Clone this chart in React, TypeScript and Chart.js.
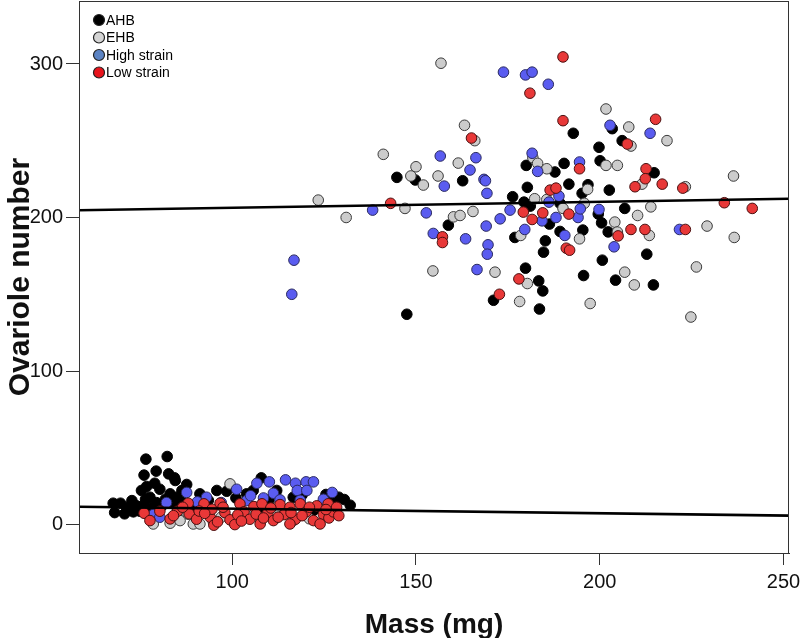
import React, { useEffect, useRef } from "react";
import { Chart, registerables } from "chart.js";

Chart.register(...registerables);

const xTicks = [100, 150, 200, 250];
const yTicks = [0, 100, 200, 300];
const xTitle = "Mass (mg)";
const yTitle = "Ovariole number";
const seriesNames = ["AHB", "EHB", "High strain", "Low strain"];

const ahbPoints: [number, number][] = [
  [144.8, 226.2], [149.8, 224.5], [158.8, 195.1], [147.5, 137.1], [192.8, 254.9], [203.4, 257.9],
  [206.1, 250.1], [199.8, 245.8], [162.7, 224], [180, 234], [187.8, 229.7], [190.3, 235.3],
  [200.1, 237], [214.8, 229.2], [180.3, 219.7], [191.6, 221.8], [196.8, 221.4], [195.2, 215.8],
  [202.6, 217.9], [176.3, 213.6], [179.4, 210.1], [181.1, 207.5], [189.2, 209.3], [206.8, 206],
  [186.3, 195.8], [199.6, 202.3], [200.5, 196.6], [202.3, 190.7], [176.9, 187.1], [185.2, 184.9],
  [189.2, 191], [195.4, 191.9], [184.7, 177.5], [200.7, 172.3], [212.8, 176.2], [179.8, 167.1],
  [183.4, 158.8], [184.5, 152.3], [171.1, 146.2], [183.6, 140.5], [195.6, 162.3], [204.3, 159.3],
  [214.6, 156.2],
  [67.6, 14.1], [68, 8], [69.6, 14.1], [70.7, 7.2], [71.3, 11.5], [72.7, 15.8], [73.1, 8.5],
  [74, 12.4], [74.9, 8.9], [75.3, 22.4], [75.8, 12.4], [76.4, 16.7], [76.9, 7.2], [77.6, 18],
  [78.2, 11.5], [78.9, 27.1], [79.4, 14.5], [80.3, 23.2], [80.9, 12.4], [81.8, 16.7], [83.1, 20.2],
  [84, 13.7], [84.9, 18], [86.3, 22.4], [87.6, 26.3], [76.7, 25], [76, 32.4], [79.3, 35],
  [82.7, 33.2], [84.3, 30.6], [84.5, 28.9], [76.5, 42.8], [82.3, 44.5], [98.5, 21.9], [103.9, 20.2],
  [105.7, 22.4], [107.9, 30.6], [129, 18], [132.1, 12.8], [95.8, 22.4], [91.2, 20.2], [112.1, 22.4],
  [116.6, 18], [127.5, 15.8], [89.4, 11.5], [107.6, 11.5], [122.1, 9.4], [72, 10], [79.8, 9.5],
  [86, 15.5], [93.5, 16], [101, 17.5], [110, 16], [119, 19.5], [125.5, 19.8], [130.5, 16.5]
];

const ehbPoints: [number, number][] = [
  [156.8, 300.5], [141.1, 241.2], [150, 233.1], [148.6, 227.1], [152, 221.2], [156, 227.1],
  [123.4, 211.4], [147, 206], [131, 200.1], [160.2, 200.5], [162, 201.4], [154.6, 165.3],
  [161.5, 235.5], [163.2, 260.1], [166, 250.1], [201.7, 270.7], [207.9, 259], [218.3, 250.1],
  [208.5, 246.6], [181.8, 239], [183.1, 235.3], [185.6, 231.8], [201.7, 234], [204.8, 234],
  [211.5, 221.8], [223.3, 220.1], [236.4, 227.1], [196.7, 218.4], [182.3, 212.3], [185.6, 211.8],
  [190, 206], [195.8, 209.3], [213.9, 207], [204.1, 197.1], [204.8, 190.6], [210.3, 201.4],
  [213.5, 188.4], [229.2, 194.5], [236.6, 187.1], [165.5, 204], [178.5, 188.4], [194.5, 186.2],
  [171.5, 164.5], [180.3, 157.1], [178.2, 145.4], [197.4, 144.1], [206.8, 164.5], [209.4, 156.2],
  [226.3, 167.9], [224.8, 135.3],
  [83.1, 1.1], [89.4, 0.6], [85.8, 2.8], [94.9, 1.5], [100.3, 1.9], [99.4, 26.7], [78.5, 0.6],
  [91.2, 0.6], [116.6, 2.8], [107.6, 3.7], [112.1, 11.5], [97, 5], [104, 6], [121, 4], [88, 7]
];

const highStrainPoints: [number, number][] = [
  [156.6, 240.1], [157.7, 220.5], [138.2, 204.9], [152.8, 203.1], [154.7, 189.7], [116.8, 172.3],
  [116.2, 150.1], [173.8, 294.7], [179.8, 292.9], [181.6, 294.7], [186, 286.8], [202.8, 260.1],
  [213.7, 254.9], [166.3, 239], [164.7, 231], [168.5, 224.9], [168.9, 224], [169.3, 215.8],
  [181.6, 241.9], [183.1, 230.1], [194.5, 236.2], [188.9, 214], [186.2, 210.1], [175.6, 204.9],
  [184.3, 197.9], [188.1, 200.1], [194.1, 200.1], [194.7, 205.7], [199.8, 205.3], [221.7, 192.3],
  [172.9, 199.2], [169.1, 194.5], [163.5, 186.2], [169.6, 182.3], [169.4, 176.2], [179.6, 192.3],
  [190.5, 188.4], [203.9, 181], [166.6, 166.2],
  [106.7, 27.1], [110.1, 28], [114.5, 29.3], [117.2, 27.1], [120.1, 28], [122.1, 28], [117.7, 22.4],
  [120.3, 22.4], [111.2, 20.6], [101.2, 23.2], [87.6, 21.1], [127.2, 21.1], [113, 16.3], [93, 18],
  [82.1, 14.5], [78.5, 6.7], [80.3, 5], [124.8, 16.7], [103.9, 15.8], [97, 14.5], [108.5, 17.5],
  [90.5, 15], [118.5, 16], [105, 19]
];

const lowStrainPoints: [number, number][] = [
  [143.1, 209.3], [157.2, 187.5], [157.2, 183.8], [190, 304.6], [181, 281], [190, 263.1],
  [215.2, 264], [165.1, 251.8], [207.5, 247.9], [194.5, 231.8], [212.6, 231.8], [212.4, 225.3],
  [209.6, 220.1], [217, 221.8], [222.6, 219.2], [186.5, 217.9], [188.1, 219.2], [233.9, 209.7],
  [241.5, 206], [179.2, 203.6], [181.6, 198.8], [184.5, 203.1], [191.6, 202.3], [205, 188.1],
  [208.5, 192.3], [212.3, 192.3], [223.3, 192.3], [190.9, 180.1], [191.8, 178.8], [178, 160.1],
  [172.7, 150.1],
  [76, 7.6], [83.1, 3.9], [85.1, 8.9], [88, 14.1], [88.3, 7.2], [90.3, 3.7], [92.3, 13.7], [94, 5],
  [94.5, 10.2], [96.7, 14.1], [98, 8], [99.4, 3.3], [100.7, 0.2], [102.1, 13.7], [103.2, 8.5],
  [104.8, 3.7], [105.9, 11.9], [108.1, 13.7], [109.7, 8], [111.2, 2.8], [113, 13.2], [114.1, 6.7],
  [115.7, 11.5], [117.2, 3.7], [118.5, 13.7], [120.1, 8.5], [122.1, 2.8], [123, 12.4], [124.8, 6.7],
  [126.1, 13.7], [126.3, 4.5], [127.5, 8.5], [128.4, 11.5], [80.3, 8.9], [77.6, 2.8], [95, -0.2],
  [107.6, 0.6], [115.7, 0.6], [123.9, 0.6], [86.5, 11.5], [91, 9], [96, 2], [101.5, 6.5],
  [106.5, 7], [110.5, 11], [112.5, 5], [119, 6], [121, 11.5], [125.5, 10], [129, 6], [84, 6],
  [97.5, 11.5], [102.5, 2.5], [108.5, 4.5], [116, 8], [92.5, 7.5]
];

const fitX = [58.3, 251.5];
const upperFitY = [204.8, 212.3];
const lowerFitY = [11.8, 6.0];

const pointFill = ["#000000", "#cccccc", "#5a5cf0", "#e83838"];
const pointEdge = ["#000000", "#3a3a3a", "#2a2a60", "#4a1010"];
const legendFill = ["#000000", "#d4d4d4", "#5b83c3", "#e8141c"];

const toXY = (pts: [number, number][]) => pts.map(([x, y]) => ({ x, y }));
const fitLine = (ys: number[]) => fitX.map((x, i) => ({ x, y: ys[i] }));

const frameAndLegend = {
  id: "frameAndLegend",
  afterDatasetsDraw(chart: any) {
    const { ctx, chartArea } = chart;
    ctx.save();
    ctx.strokeStyle = "#333333";
    ctx.lineWidth = 1;
    ctx.strokeRect(chartArea.left + 0.5, chartArea.top + 0.5, chartArea.right - chartArea.left - 1, chartArea.bottom - chartArea.top);
    ctx.font = "14px 'Liberation Sans', Arial, sans-serif";
    ctx.textBaseline = "middle";
    ctx.textAlign = "left";
    seriesNames.forEach((name, i) => {
      const cy = chartArea.top + 19 + i * 17.5;
      const cx = chartArea.left + 20;
      ctx.fillStyle = "#000";
      ctx.fillText(name, cx + 7, cy + 1);
      ctx.beginPath();
      ctx.arc(cx, cy, 5.5, 0, Math.PI * 2);
      ctx.fillStyle = legendFill[i];
      ctx.fill();
      ctx.strokeStyle = "#222";
      ctx.lineWidth = 1.2;
      ctx.stroke();
    });
    ctx.restore();
  },
};

export default function App() {
  const ref = useRef<HTMLCanvasElement | null>(null);
  useEffect(() => {
    if (!ref.current) return;
    const series = [ahbPoints, ehbPoints, highStrainPoints, lowStrainPoints];
    const orders = [4, 3, 2, 1];
    const pointSets = series.map((pts, i) => ({
      label: seriesNames[i],
      data: toXY(pts),
      backgroundColor: pointFill[i],
      borderColor: pointEdge[i],
      borderWidth: 1,
      pointRadius: 5.3,
      order: orders[i],
      showLine: false,
    }));
    const lineSets = [upperFitY, lowerFitY].map((ys, i) => ({
      label: "fit" + i,
      data: fitLine(ys),
      showLine: true,
      borderColor: "#000000",
      borderWidth: 2.6,
      pointRadius: 0,
      order: 0,
    }));
    const chart = new Chart(ref.current, {
      type: "scatter",
      data: { datasets: [...lineSets, ...pointSets] as any },
      options: {
        animation: false,
        responsive: false,
        maintainAspectRatio: false,
        layout: { autoPadding: false, padding: { left: 0, right: 11, top: 1, bottom: 0 } },
        plugins: { legend: { display: false }, tooltip: { enabled: false } },
        scales: {
          x: {
            type: "linear",
            min: 58.3,
            max: 251.5,
            afterBuildTicks: (s: any) => { s.ticks = xTicks.map((v) => ({ value: v })); },
            afterFit: (s: any) => { s.height = 85; s.paddingLeft = 0; s.paddingRight = 0; },
            grid: { drawOnChartArea: false, drawTicks: true, tickLength: 12, color: "#333", lineWidth: 1 },
            border: { display: true, color: "#333", width: 1 },
            ticks: { color: "#111", padding: 5, font: { size: 20, family: "'Liberation Sans', Arial, sans-serif" } },
            title: { display: true, text: xTitle, color: "#111", padding: { top: 0, bottom: -4 }, font: { size: 28, weight: "bold", family: "'Liberation Sans', Arial, sans-serif" } },
          },
          y: {
            type: "linear",
            min: -18.3,
            max: 341,
            afterBuildTicks: (s: any) => { s.ticks = yTicks.map((v) => ({ value: v })); },
            afterFit: (s: any) => { s.width = 79; s.paddingTop = 0; s.paddingBottom = 0; },
            grid: { drawOnChartArea: false, drawTicks: true, tickLength: 13, color: "#333", lineWidth: 1 },
            border: { display: true, color: "#333", width: 1 },
            ticks: { color: "#111", padding: 3, font: { size: 20, family: "'Liberation Sans', Arial, sans-serif" } },
            title: { display: true, text: yTitle, color: "#111", padding: { top: 3, bottom: 0 }, font: { size: 30, weight: "bold", family: "'Liberation Sans', Arial, sans-serif" } },
          },
        },
      },
      plugins: [frameAndLegend],
    });
    return () => chart.destroy();
  }, []);
  return (
    <div style={{ position: "fixed", left: 0, top: 0, width: 800, height: 638, background: "#fff" }}>
      <canvas ref={ref} width={800} height={638} style={{ width: 800, height: 638 }} />
    </div>
  );
}
